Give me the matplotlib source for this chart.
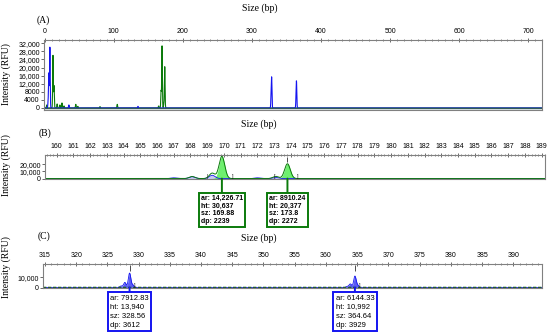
# -*- coding: utf-8 -*-
"""
Capillary electropherogram: overview (A) and zoomed peaks (B, C)
"""

# ============================================================
# Import Libraries
# ============================================================

import numpy as np
import matplotlib
matplotlib.use("Agg")
import matplotlib.pyplot as plt
from matplotlib.ticker import MultipleLocator

# ============================================================
# Data
# ============================================================

# Panel A - whole run, peak size (bp) and height (RFU)
a_blue_size = [5.0, 6.0, 7.5, 35, 135, 327.8, 328.6, 364.0, 364.6]
a_blue_height = [3000, 17000, 30000, 1500, 800, 6000, 13940, 5000, 10992]
a_green_size = [3, 12.0, 13.5, 18, 22, 25, 28, 45, 48, 80, 105,
                165, 168.5, 169.9, 172.5, 173.8]
a_green_height = [1500, 26000, 11000, 2000, 1500, 2500, 1000, 1800, 800,
                  700, 1800, 1000, 8500, 30637, 2000, 20377]
a_xticks = [0, 100, 200, 300, 400, 500, 600, 700]
a_yticks = [0, 4000, 8000, 12000, 16000, 20000, 24000, 28000, 32000]
a_ylabels = ["0", "4000", "8000", "12,000", "16,000", "20,000",
             "24,000", "28,000", "32,000"]

# Panel B - zoom 160-189 bp
b_blue_size = [167.0, 168.1, 169.3, 172.0, 173.1]
b_blue_height = [1000, 2500, 4500, 1000, 1500]
b_green_size = [168.1, 169.3, 169.88, 173.1, 173.8]
b_green_height = [2800, 7500, 30637, 3000, 20377]
b_green_filled = [False, False, True, False, True]
b_xticks = list(range(160, 190))
b_yticks = [0, 10000, 20000]
b_ylabels = ["0", "10,000", "20,000"]
# peak window marks: (size, glyph)
b_marks = [(169.0, "|"), (170.5, "]"), (173.0, "["), (174.4, "]")]

# Panel C - zoom 315-390 bp
c_blue_size = [327.2, 327.8, 328.56, 329.1, 363.4, 363.9, 364.64, 365.1]
c_blue_height = [1500, 5000, 13940, 2500, 1000, 3500, 10992, 2000]
c_xticks = list(range(315, 395, 5))
c_yticks = [0, 10000]
c_ylabels = ["0", "10,000"]
c_marks = [(329.4, "]"), (365.4, "]")]

# peak call boxes
b_calls = [("14,226.71", "30,637", "169.88", "2239"),
           ("8910.24", "20,377", "173.8", "2272")]
c_calls = [("7912.83", "13,940", "328.56", "3612"),
           ("6144.33", "10,992", "364.64", "3929")]

# ============================================================
# Helpers
# ============================================================

BLUE = "#1414f0"
GREEN = "#0b7a0b"
LIGHT_GREEN = "#6fef6f"
LAVENDER = "#c9c9f2"
GREY = "#808080"
SERIF = ["Liberation Serif", "DejaVu Serif"]
SANS = ["Liberation Sans", "DejaVu Sans"]


def trace(x, sizes, heights, sigma):
    y = np.zeros_like(x)
    for s, h in zip(sizes, heights):
        y = y + h * np.exp(-0.5 * ((x - s) / sigma) ** 2)
    return y


def style_axes(ax, xlim, ylim, xticks, yticks, ylabels, minor):
    ax.set_xlim(xlim)
    ax.set_ylim(ylim)
    ax.xaxis.tick_top()
    ax.set_xticks(xticks)
    ax.set_xticklabels([str(t) for t in xticks], family=SANS, fontsize=5)
    ax.xaxis.set_minor_locator(MultipleLocator(minor))
    ax.set_yticks(yticks)
    ax.set_yticklabels(ylabels, family=SANS, fontsize=5)
    ax.tick_params(axis="x", which="major", direction="inout", length=3,
                   width=0.6, pad=2, color="#505050")
    ax.tick_params(axis="x", which="minor", direction="inout", length=2,
                   width=0.5, color="#505050")
    ax.tick_params(axis="y", direction="out", length=2, width=0.6, pad=1,
                   color="#505050")
    for sp in ax.spines.values():
        sp.set_color(GREY)
        sp.set_linewidth(0.8)


def call_box(ax, size, call, color, offset, fs, weight, spacing):
    text = "ar: %s\nht: %s\nsz: %s\ndp: %s" % call
    ax.annotate(text, xy=(size, 0), xycoords="data",
                xytext=(0, offset), textcoords="offset points",
                ha="center", va="top", ma="left", fontsize=fs,
                family=SANS, fontweight=weight, linespacing=spacing,
                bbox=dict(boxstyle="square,pad=0.3", fc="white", ec=color,
                          lw=1.4),
                arrowprops=dict(arrowstyle="-", color=color, lw=1.4,
                                shrinkA=0, shrinkB=0),
                annotation_clip=False)


def marks(ax, items, y):
    for s, g in items:
        ax.text(s, y, g, fontsize=4, family=SANS, ha="center",
                va="bottom", color="#202020")


fig = plt.figure(figsize=(5.5, 3.36), dpi=100)

# ============================================================
# Panel A
# ============================================================

axA = fig.add_axes([0.08, 0.6726, 0.9055, 0.2083])
xa = np.arange(-1, 721, 0.05)
axA.plot(xa, trace(xa, a_green_size, a_green_height, 0.45),
         color=GREEN, lw=0.8)
axA.plot(xa, trace(xa, a_blue_size, a_blue_height, 0.45),
         color=BLUE, lw=0.8)
axA.axhline(0, color="#2f5a5a", lw=1.0)
style_axes(axA, (-1, 720), (-1000, 33600), a_xticks, a_yticks, a_ylabels, 10)

fig.text(0.472, 0.975, "Size (bp)", family=SERIF, fontsize=7,
         ha="center", va="center")
fig.text(0.066, 0.94, "(A)", family=SERIF, fontsize=7, ha="left",
         va="center")
fig.text(0.012, 0.78, "Intensity (RFU)", family=SERIF, fontsize=7,
         rotation=90, ha="center", va="center")

# ============================================================
# Panel B
# ============================================================

axB = fig.add_axes([0.0818, 0.4673, 0.909, 0.0714])
xb = np.arange(159.3, 189.3, 0.01)
yb_blue = trace(xb, b_blue_size, b_blue_height, 0.17)
axB.fill_between(xb, 0, yb_blue, color=LAVENDER, lw=0)
axB.plot(xb, yb_blue, color=BLUE, lw=0.6)
for s, h, f in zip(b_green_size, b_green_height, b_green_filled):
    yp = trace(xb, [s], [h], 0.17)
    if f:
        axB.fill_between(xb, 0, yp, color=LIGHT_GREEN, lw=0)
axB.plot(xb, trace(xb, b_green_size, b_green_height, 0.17),
         color=GREEN, lw=0.7)
axB.vlines([b_green_size[4]], 23500, 29500, color="#303030", lw=0.6)
marks(axB, b_marks, 0)
style_axes(axB, (159.3, 189.2), (-600, 32500), b_xticks, b_yticks,
           b_ylabels, 0.2)
for lbl in axB.get_xticklabels():
    lbl.set_clip_on(False)

for s, call in zip([b_green_size[2], b_green_size[4]], b_calls):
    call_box(axB, s, call, GREEN, -12, 5.0, "bold", 1.1)

fig.text(0.47, 0.631, "Size (bp)", family=SERIF, fontsize=7,
         ha="center", va="center")
fig.text(0.07, 0.605, "(B)", family=SERIF, fontsize=7, ha="left",
         va="center")
fig.text(0.012, 0.51, "Intensity (RFU)", family=SERIF, fontsize=7,
         rotation=90, ha="center", va="center")

# ============================================================
# Panel C
# ============================================================

axC = fig.add_axes([0.0782, 0.1429, 0.9073, 0.0714])
xc = np.arange(314.7, 394.7, 0.01)
yc_blue = trace(xc, c_blue_size, c_blue_height, 0.2)
axC.fill_between(xc, 0, yc_blue, color="#5c5cf5", lw=0)
axC.plot(xc, yc_blue, color=BLUE, lw=0.6)
axC.plot(xc, np.zeros_like(xc), color="#1d5a2a", lw=1.2, ls=(0, (2, 1)))
axC.vlines([c_blue_size[2], c_blue_size[6]], 16500, 21500,
           color="#303030", lw=0.6)
marks(axC, c_marks, 0)
style_axes(axC, (314.7, 394.6), (-400, 22800), c_xticks, c_yticks,
           c_ylabels, 1)

for s, call in zip([c_blue_size[2], c_blue_size[6]], c_calls):
    call_box(axC, s, call, BLUE, -5, 5.5, "normal", 1.4)

fig.text(0.47, 0.29, "Size (bp)", family=SERIF, fontsize=7,
         ha="center", va="center")
fig.text(0.068, 0.297, "(C)", family=SERIF, fontsize=7, ha="left",
         va="center")
fig.text(0.012, 0.205, "Intensity (RFU)", family=SERIF, fontsize=7,
         rotation=90, ha="center", va="center")

fig.savefig("out.png", dpi=100)
